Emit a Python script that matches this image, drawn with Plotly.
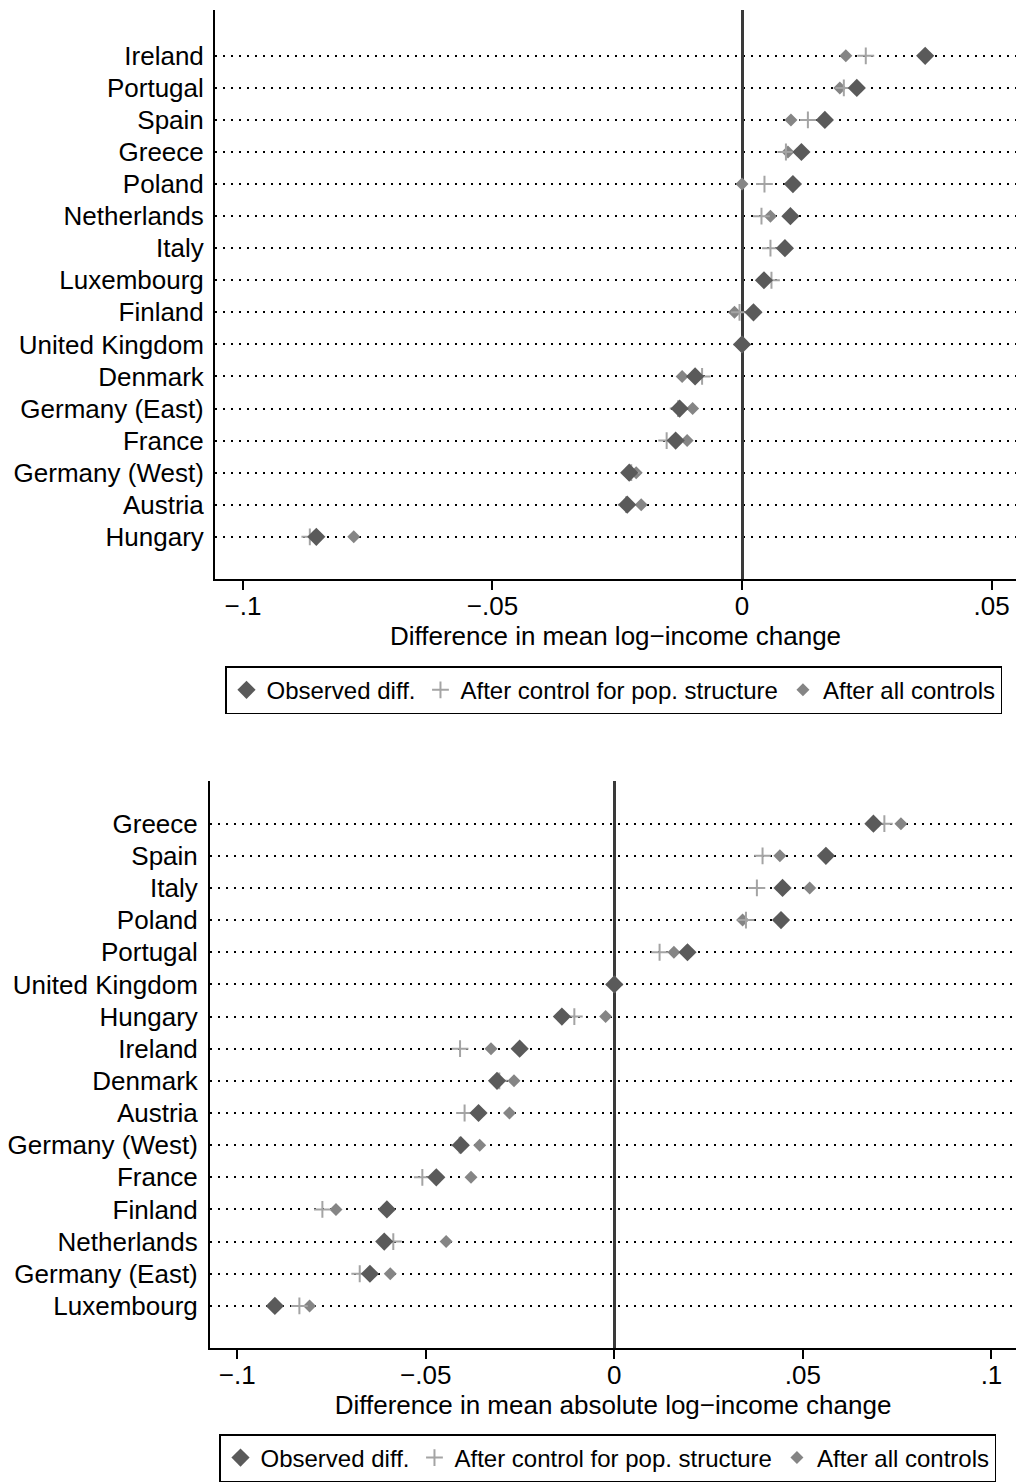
import plotly.graph_objects as go

# Panel A: difference in mean log-income change
top_countries = ["Ireland", "Portugal", "Spain", "Greece", "Poland", "Netherlands", "Italy",
                 "Luxembourg", "Finland", "United Kingdom", "Denmark", "Germany (East)",
                 "France", "Germany (West)", "Austria", "Hungary"]
top_observed = [0.0367, 0.0230, 0.0166, 0.0119, 0.0102, 0.0097, 0.0086, 0.0044, 0.0023, 0.0,
                -0.0094, -0.0125, -0.0133, -0.0226, -0.0230, -0.0853]
top_popstruct = [0.0248, 0.0204, 0.0132, 0.0088, 0.0045, 0.0039, 0.0057, 0.0059, -0.0005, 0.0,
                 -0.0080, -0.0128, -0.0151, -0.0222, -0.0232, -0.0866]
top_allctrl = [0.0208, 0.0196, 0.0098, 0.0092, 0.0000, 0.0057, 0.0083, 0.0047, -0.0015, 0.0,
               -0.0120, -0.0099, -0.0110, -0.0212, -0.0202, -0.0778]

# Panel B: difference in mean absolute log-income change
bot_countries = ["Greece", "Spain", "Italy", "Poland", "Portugal", "United Kingdom", "Hungary",
                 "Ireland", "Denmark", "Austria", "Germany (West)", "France", "Finland",
                 "Netherlands", "Germany (East)", "Luxembourg"]
bot_observed = [0.0687, 0.0561, 0.0446, 0.0442, 0.0194, 0.0, -0.0139, -0.0251, -0.0311, -0.0360,
                -0.0407, -0.0472, -0.0603, -0.0610, -0.0648, -0.0900]
bot_popstruct = [0.0716, 0.0393, 0.0378, 0.0349, 0.0120, 0.0, -0.0106, -0.0409, -0.0305, -0.0397,
                 -0.0410, -0.0509, -0.0774, -0.0586, -0.0675, -0.0835]
bot_allctrl = [0.0760, 0.0439, 0.0518, 0.0340, 0.0158, 0.0, -0.0023, -0.0327, -0.0266, -0.0278,
               -0.0357, -0.0380, -0.0738, -0.0446, -0.0594, -0.0808]

top_ticks = [-0.1, -0.05, 0, 0.05]
top_ticktext = ["\u2212.1", "\u2212.05", "0", ".05"]
bot_ticks = [-0.1, -0.05, 0, 0.05, 0.1]
bot_ticktext = ["\u2212.1", "\u2212.05", "0", ".05", ".1"]

series_names = ["Observed diff.", "After control for pop. structure", "After all controls"]

FONT = "Liberation Sans, Arial, Helvetica, sans-serif"
FS = 26
C_OBS = "#5a5a5a"
C_POP = "#a4a4a4"
C_ALL = "#858585"

fig = go.Figure()


def add_panel(countries, obs, pop, allc, xa, ya, legend):
    # drawn bottom-to-top: all controls, pop. structure, observed
    fig.add_trace(go.Scatter(
        x=allc, y=countries, mode="markers", name=series_names[2],
        marker=dict(symbol="diamond", size=10, color=C_ALL, line=dict(width=0)),
        xaxis=xa, yaxis=ya, legend=legend))
    fig.add_trace(go.Scatter(
        x=pop, y=countries, mode="markers", name=series_names[1],
        marker=dict(symbol="cross-thin", size=12, color=C_POP, line=dict(color=C_POP, width=2)),
        xaxis=xa, yaxis=ya, legend=legend))
    fig.add_trace(go.Scatter(
        x=obs, y=countries, mode="markers", name=series_names[0],
        marker=dict(symbol="diamond", size=14, color=C_OBS, line=dict(width=0)),
        xaxis=xa, yaxis=ya, legend=legend))


add_panel(top_countries, top_observed, top_popstruct, top_allctrl, "x", "y", "legend")
add_panel(bot_countries, bot_observed, bot_popstruct, bot_allctrl, "x2", "y2", "legend2")

H = 1482.0
W = 1016.0

xaxis_common = dict(
    showline=True, linecolor="black", linewidth=2,
    ticks="outside", ticklen=9, tickwidth=2, tickcolor="black",
    ticklabelstandoff=-7,
    showgrid=False, zeroline=True, zerolinecolor="#3a3a3a", zerolinewidth=2.5,
    tickfont=dict(family=FONT, size=FS, color="black"),
    title_font=dict(family=FONT, size=FS, color="black"),
)
yaxis_common = dict(
    type="category", showline=True, linecolor="black", linewidth=2,
    ticks="", showgrid=True, gridcolor="black", gridwidth=2, griddash="2px,6px",
    tickfont=dict(family=FONT, size=FS, color="black"),
    zeroline=False,
)

legend_common = dict(
    orientation="h", xanchor="left", yanchor="top",
    bordercolor="black", borderwidth=1.5, bgcolor="white",
    font=dict(family=FONT, size=24, color="black"),
    traceorder="reversed", itemwidth=30,
)

fig.update_layout(
    width=1016, height=1482,
    margin=dict(l=0, r=0, t=0, b=0),
    paper_bgcolor="white", plot_bgcolor="white",
    font=dict(family=FONT, size=FS, color="black"),
    xaxis=dict(xaxis_common, domain=[215 / W, 1.0], range=[-0.1056, 0.0549],
               tickvals=top_ticks, ticktext=top_ticktext, anchor="y",
               title=dict(text="Difference in mean log\u2212income change", standoff=6)),
    yaxis=dict(yaxis_common, domain=[1 - 581 / H, 1 - 10 / H], anchor="x",
               categoryorder="array", categoryarray=top_countries,
               range=[16.33, -1.43], ticklabelstandoff=4),
    xaxis2=dict(xaxis_common, domain=[210 / W, 1.0], range=[-0.1072, 0.1065],
                tickvals=bot_ticks, ticktext=bot_ticktext, anchor="y2",
                title=dict(text="Difference in mean absolute log\u2212income change", standoff=6)),
    yaxis2=dict(yaxis_common, domain=[1 - 1352 / H, 1 - 783 / H], anchor="x2",
                categoryorder="array", categoryarray=bot_countries,
                range=[16.32, -1.33], ticklabelstandoff=5),
    legend=dict(legend_common, x=225 / W, y=1 - 668 / H),
    legend2=dict(legend_common, x=219 / W, y=1 - 1438 / H),
)

fig.write_html("out.html")
